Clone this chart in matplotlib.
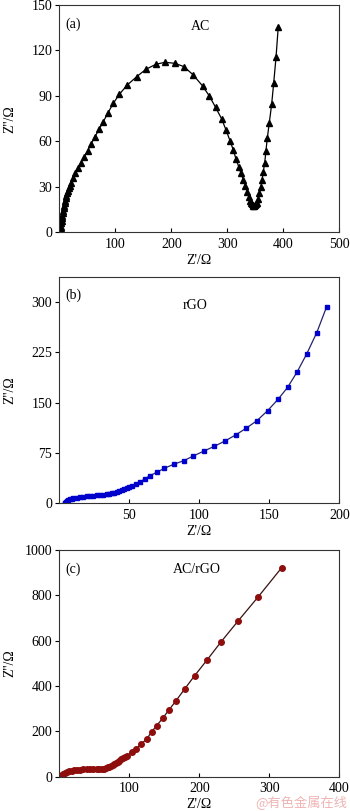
import matplotlib
matplotlib.use("Agg")
import matplotlib.pyplot as plt

# ---- Data ----
ac_x = [2.0, 2.2, 2.5, 3.0, 3.6, 4.2, 4.8, 5.4, 6.0, 6.9, 7.8, 8.7, 9.6, 10.5, 11.4, 12.6, 13.8,
        15.2, 16.7, 18.5, 20.4, 23.9, 28.0, 32.8, 38.2, 44.0,
        50.7, 56.6, 63.8, 70.9, 78.6, 86.4, 96.4, 107.0, 121.4, 138.2, 154.8, 172.7, 188.8,
        206.6, 222.7, 239.3, 256.0, 268.0, 279.0, 290.0, 297.7, 304.8, 310.7, 315.5, 320.4,
        324.5, 328.6, 332.2, 335.7, 338.8, 341.0, 342.4, 343.6, 345.0, 346.4, 348.2, 350.0,
        351.2, 352.5, 354.8, 357.0,
        359.6, 362.0, 364.3, 366.8, 369.0, 371.4, 375.0, 379.2, 382.9, 387.0, 391.0]
ac_y = [0.5, 1.0, 2.0, 3.5, 5.9, 7.5, 9.2, 10.8, 12.5, 14.0, 15.8, 17.5, 19.1, 20.8, 22.4, 24.0, 25.7,
        27.4, 29.0, 30.6, 32.3, 35.6, 38.9, 42.2, 45.5, 49.5,
        53.9, 58.3, 63.1, 68.0, 73.0, 78.5, 85.1, 91.0, 97.2, 102.7, 107.6, 110.9, 112.2,
        111.5, 109.3, 103.8, 96.5, 89.9, 82.5, 74.8, 67.5, 60.5, 54.3, 48.4, 43.3,
        38.9, 34.5, 30.6, 26.8, 23.5, 20.7, 19.5, 18.5, 17.8, 17.4, 17.5, 18.0,
        18.6, 19.5, 22.0, 25.7,
        29.7, 34.5, 40.0, 45.9, 53.7, 62.0, 72.3, 84.5, 98.7, 115.5, 135.7]

rgo_x = [3.8, 4.1, 4.6, 5.3, 6.4, 7.6, 8.8, 10.0, 12.4, 14.8, 17.2, 19.6, 22.0, 24.3, 26.6, 29.0,
         31.5, 33.9, 35.6, 37.4, 39.2, 41.0, 42.8, 44.6, 46.4, 48.1, 49.9, 51.7, 54.8,
         57.9, 61.2, 64.8, 69.6, 75.0, 81.7, 89.0, 95.7, 103.4, 110.7, 118.4, 126.0, 133.4,
         141.2, 148.8, 156.2, 163.1, 170.0, 176.7, 183.9, 191.0]
rgo_y = [0.3, 1.0, 2.5, 3.9, 5.0, 6.0, 6.8, 7.5, 8.3, 9.0, 9.7, 10.4, 10.8, 11.3, 11.8, 12.4,
         13.1, 13.9, 14.3, 14.9, 16.0, 17.3, 18.6, 19.9, 21.3, 22.8, 24.3, 25.8, 28.8,
         32.2, 36.7, 41.2, 46.3, 52.2, 58.2, 63.6, 70.6, 78.0, 85.0, 93.0, 102.0, 111.9,
         123.3, 138.2, 155.0, 173.0, 196.4, 222.8, 254.6, 293.4]

acrgo_x = [3.0, 3.4, 4.4, 5.7, 8.0, 10.6, 14.0, 17.7, 21.3, 24.9, 29.6, 34.3, 39.1, 43.9, 48.6,
           53.4, 57.0, 60.6, 63.7, 66.7, 69.0, 71.4, 73.8, 76.3, 78.6, 81.0, 83.3, 85.7, 88.5,
           91.4, 94.2, 97.1, 103.4, 109.6, 116.3, 124.9, 132.0, 139.1, 147.7, 156.3, 166.7, 179.1,
           193.4, 210.6, 230.6, 254.9, 284.3, 317.7]
acrgo_y = [1, 3, 7, 12, 17, 21, 24, 26, 28, 30, 31, 32, 32, 32, 32, 32, 33, 34, 36, 38, 41, 44,
           48, 52, 57, 62, 66, 71, 76, 81, 87, 93, 107, 122, 143, 166,
           199, 225, 258, 293, 335, 387, 446, 513, 593, 685, 794, 922]

panel_tags = ["(a)", "(b)", "(c)"]
panel_names = ["AC", "rGO", "AC/rGO"]
xlims = [(0, 500), (0, 200), (0, 400)]
ylims = [(0, 150), (0, 338), (0, 1000)]
xticks = [[100, 200, 300, 400, 500], [50, 100, 150, 200], [100, 200, 300, 400]]
yticks = [[0, 30, 60, 90, 120, 150], [0, 75, 150, 225, 300], [0, 200, 400, 600, 800, 1000]]

plt.rcParams['font.family'] = ['Liberation Serif', 'DejaVu Serif']

fig = plt.figure(figsize=(3.5, 8.11), dpi=100)
W, H = 350.0, 811.0
axes_px = [(5.0, 232.3), (276.7, 503.3), (550.0, 776.7)]
left, right = 59.3, 339.3

series = [
    (ac_x, ac_y, dict(marker='^', color='black', mfc='black', mec='black', ms=4.0, lw=0.9)),
    (rgo_x, rgo_y, dict(marker='s', color='#23236e', mfc='#0000cc', mec='#0000cc', ms=3.4, lw=0.9)),
    (acrgo_x, acrgo_y, dict(marker='o', color='#3a1010', mfc='#8e0e0e', mec='#8e0e0e', ms=4.0, lw=0.9)),
]
tag_pos = [(0.02, 0.916, 0.505, 0.905), (0.02, 0.919, 0.485, 0.875), (0.02, 0.915, 0.493, 0.912)]

for i, (top, bot) in enumerate(axes_px):
    ax = fig.add_axes([left / W, 1 - bot / H, (right - left) / W, (bot - top) / H])
    x, y, st = series[i]
    ax.plot(x, y, **st)
    ax.set_xlim(*xlims[i])
    ax.set_ylim(*ylims[i])
    ax.set_xticks(xticks[i])
    ax.set_yticks(yticks[i])
    ax.tick_params(axis='x', direction='in', length=3, width=0.8, labelsize=10, pad=4)
    ax.tick_params(axis='y', direction='out', length=3, width=0.8, labelsize=10, pad=2)
    for s in ax.spines.values():
        s.set_linewidth(0.8)
        s.set_color('#333333')
    ax.set_xlabel("Z'/Ω", fontsize=10, labelpad=2)
    ax.set_ylabel("Z''/Ω", fontsize=10)
    ax.yaxis.set_label_coords(-0.155, 0.5)
    tx, ty, nx, ny = tag_pos[i]
    ax.text(tx, ty, panel_tags[i], transform=ax.transAxes, fontsize=10, ha='left', va='center')
    ax.text(nx, ny, panel_names[i], transform=ax.transAxes, fontsize=10, ha='center', va='center')

fig.text(347 / W, 1 - 803 / H, "@有色金属在线", fontsize=9.5, color='#f0b4b4',
         ha='right', va='center', family=['Noto Sans CJK SC', 'DejaVu Sans'])

fig.savefig("out.png", dpi=100)
